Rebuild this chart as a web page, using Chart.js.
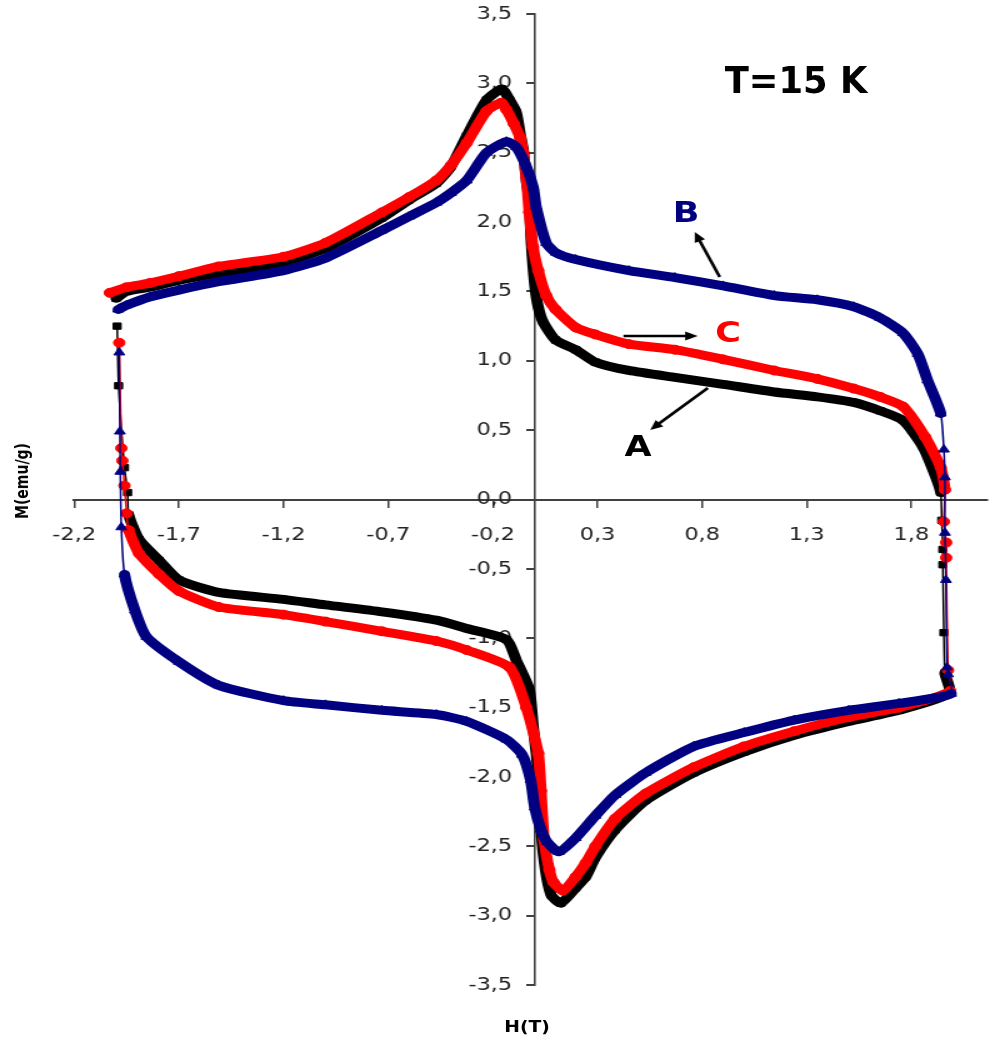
<!DOCTYPE html>
<html>
<head>
<meta charset="utf-8">
<title>M(H) loops, T=15 K</title>
<script src="https://cdn.jsdelivr.net/npm/chart.js@4.4.1/dist/chart.umd.min.js"></script>
<style>
  html, body { margin: 0; padding: 0; background: #fff; }
  #wrap { position: relative; width: 995px; height: 1046px; overflow: hidden; }
  /* the source picture is stretched sideways, so draw narrow and widen the canvas */
  #loopChart { position: absolute; left: 0; top: 0; width: 995px !important; height: 1046px !important; }
  .note { position: absolute; font-family: 'DejaVu Sans', sans-serif; font-weight: bold; white-space: nowrap; line-height: 1; }
</style>
</head>
<body>
<div id="wrap">
  <canvas id="loopChart" width="796" height="1046"></canvas>
  <div class="note" style="left:796px; top:80px; font-size:38px; color:#000; transform:translate(-50%,-50%) scaleX(0.93);">T=15 K</div>
  <div class="note" style="left:686px; top:213px; font-size:28px; color:#000080; transform:translate(-50%,-50%) scaleX(1.25);">B</div>
  <div class="note" style="left:728px; top:333px; font-size:28px; color:#ff0000; transform:translate(-50%,-50%) scaleX(1.25);">C</div>
  <div class="note" style="left:638px; top:447px; font-size:28px; color:#000; transform:translate(-50%,-50%) scaleX(1.25);">A</div>
  <div class="note" style="left:22px; top:481px; font-size:14px; color:#000; transform:translate(-50%,-50%) rotate(-90deg) scaleY(1.25);">M(emu/g)</div>
  <div class="note" style="left:527px; top:1027px; font-size:15px; color:#000; transform:translate(-50%,-50%) scaleX(1.25);">H(T)</div>
</div>
<script>
// --- Data: [H (T), M (emu/g)] along each loop ---
const loopA = [ // black squares
  [-2.0, 1.45], [-1.95, 1.50], [-1.84, 1.53], [-1.7, 1.58], [-1.51, 1.63], [-1.2, 1.71], [-1.0, 1.81],
  [-0.73, 2.03], [-0.6, 2.16], [-0.47, 2.28], [-0.4, 2.40], [-0.325, 2.62], [-0.23, 2.88], [-0.157, 2.96],
  [-0.12, 2.88], [-0.088, 2.79], [-0.07, 2.64], [-0.055, 2.52], [-0.04, 2.30], [-0.026, 2.16], [-0.017, 1.87],
  [0.0, 1.55], [0.015, 1.40], [0.04, 1.28], [0.1, 1.15], [0.196, 1.08], [0.29, 0.99], [0.45, 0.93],
  [0.67, 0.88], [0.9, 0.83], [1.145, 0.775], [1.35, 0.74], [1.524, 0.70], [1.65, 0.64], [1.76, 0.57],
  [1.855, 0.38], [1.917, 0.16], [1.94, 0.05],
  [1.945, -0.15], [1.95, -0.36], [1.95, -0.47], [1.955, -0.96], [1.96, -1.25], [1.98, -1.40],
  [1.74, -1.52], [1.5, -1.60], [1.24, -1.70], [1.0, -1.82], [0.76, -1.97], [0.53, -2.17], [0.385, -2.38],
  [0.29, -2.58], [0.244, -2.72], [0.196, -2.80], [0.125, -2.91], [0.078, -2.85], [0.045, -2.60], [0.02, -2.17],
  [0.017, -1.97], [-0.007, -1.64], [-0.026, -1.37], [-0.088, -1.16], [-0.135, -1.01], [-0.325, -0.93],
  [-0.47, -0.87], [-0.73, -0.81], [-1.0, -0.76], [-1.2, -0.72], [-1.51, -0.67], [-1.7, -0.58], [-1.794, -0.44],
  [-1.89, -0.29], [-1.94, -0.11],
  [-1.945, 0.05], [-1.96, 0.23], [-1.988, 0.82], [-1.995, 1.25]
];
const loopB = [ // navy triangles
  [-1.99, 1.37], [-1.95, 1.40], [-1.84, 1.46], [-1.7, 1.51], [-1.51, 1.57], [-1.2, 1.65], [-1.0, 1.74],
  [-0.73, 1.94], [-0.6, 2.04], [-0.47, 2.14], [-0.4, 2.21], [-0.325, 2.30], [-0.23, 2.50], [-0.135, 2.58],
  [-0.088, 2.54], [-0.04, 2.40], [-0.007, 2.25], [0.007, 2.11], [0.055, 1.85], [0.1, 1.78], [0.196, 1.73],
  [0.45, 1.65], [0.67, 1.60], [0.9, 1.54], [1.145, 1.47], [1.35, 1.44], [1.524, 1.39], [1.65, 1.31],
  [1.76, 1.20], [1.83, 1.05], [1.877, 0.86], [1.94, 0.62], [1.955, 0.36], [1.96, 0.16],
  [1.96, -0.24], [1.965, -0.58], [1.97, -1.21], [1.975, -1.26], [1.99, -1.40],
  [1.74, -1.47], [1.5, -1.52], [1.24, -1.59], [1.0, -1.68], [0.76, -1.78], [0.53, -1.97], [0.385, -2.13],
  [0.29, -2.28], [0.196, -2.44], [0.115, -2.54], [0.06, -2.47], [0.03, -2.38], [0.0, -2.22], [-0.02, -2.02],
  [-0.06, -1.84], [-0.135, -1.73], [-0.325, -1.60], [-0.47, -1.55], [-0.73, -1.52], [-1.0, -1.48],
  [-1.2, -1.45], [-1.51, -1.34], [-1.7, -1.17], [-1.855, -0.99], [-1.91, -0.80], [-1.96, -0.54],
  [-1.975, -0.20], [-1.98, 0.20], [-1.982, 0.49], [-1.985, 1.06]
];
const loopC = [ // red circles
  [-2.03, 1.49], [-1.95, 1.53], [-1.84, 1.56], [-1.7, 1.61], [-1.51, 1.68], [-1.2, 1.75], [-1.0, 1.85],
  [-0.73, 2.07], [-0.6, 2.18], [-0.47, 2.30], [-0.4, 2.41], [-0.325, 2.57], [-0.23, 2.80], [-0.16, 2.86],
  [-0.135, 2.81], [-0.1, 2.71], [-0.07, 2.61], [-0.055, 2.50], [-0.04, 2.33], [-0.026, 2.07], [-0.008, 1.82],
  [0.017, 1.65], [0.055, 1.47], [0.1, 1.37], [0.196, 1.24], [0.29, 1.19], [0.45, 1.12], [0.67, 1.08],
  [0.9, 1.01], [1.145, 0.93], [1.35, 0.87], [1.524, 0.80], [1.65, 0.74], [1.76, 0.67], [1.866, 0.45],
  [1.94, 0.23], [1.96, 0.07],
  [1.955, -0.16], [1.966, -0.31], [1.966, -0.42], [1.975, -1.23], [1.985, -1.38],
  [1.74, -1.50], [1.5, -1.57], [1.24, -1.67], [1.0, -1.78], [0.76, -1.93], [0.53, -2.12], [0.385, -2.30],
  [0.29, -2.50], [0.244, -2.62], [0.196, -2.72], [0.135, -2.82], [0.09, -2.76], [0.07, -2.67], [0.045, -2.45],
  [0.03, -2.10], [0.017, -1.83], [-0.04, -1.50], [-0.12, -1.21], [-0.325, -1.085], [-0.47, -1.02],
  [-0.73, -0.95], [-1.0, -0.88], [-1.2, -0.83], [-1.51, -0.775], [-1.7, -0.66], [-1.794, -0.54],
  [-1.89, -0.39], [-1.94, -0.22], [-1.95, -0.10],
  [-1.96, 0.10], [-1.97, 0.28], [-1.975, 0.37], [-1.985, 1.13]
];
const xTicks = [-2.2, -1.7, -1.2, -0.7, -0.2, 0.3, 0.8, 1.3, 1.8];
const yTicks = [-3.5, -3.0, -2.5, -2.0, -1.5, -1.0, -0.5, 0.0, 0.5, 1.0, 1.5, 2.0, 2.5, 3.0, 3.5];

// annotation arrows in data units: [fromH, fromM, toH, toM]
const arrows = [
  [0.884, 1.604, 0.765, 1.929],  // B
  [0.424, 1.179, 0.779, 1.179],  // C
  [0.827, 0.804, 0.552, 0.501]   // A
];

const comma = v => Number(v).toFixed(1).replace('.', ',');

// thin connector where the loop jumps vertically at the field ends
const isJump = seg => {
  const a = seg.p0.parsed, b = seg.p1.parsed;
  return Math.abs(a.x) > 1.93 && Math.abs(b.x) > 1.93 && Math.abs(b.y - a.y) > 8 * Math.abs(b.x - a.x);
};

function loopDataset(label, points, color, style, radius, order) {
  return {
    label: label,
    data: points.map(p => ({ x: p[0], y: p[1] })),
    showLine: true,
    borderColor: color,
    backgroundColor: color,
    borderWidth: 9,
    borderJoinStyle: 'round',
    borderCapStyle: 'round',
    tension: 0.2,
    pointStyle: style,
    pointRadius: radius,
    pointBorderWidth: 1,
    pointBackgroundColor: color,
    pointBorderColor: color,
    segment: { borderWidth: ctx => isJump(ctx) ? 1.5 : 9 },
    order: order
  };
}

// Axes cross at (0,0); Chart.js puts centred-axis labels right on the line,
// so the tick labels are written here next to the library's own tick positions.
const tickLabelPlugin = {
  id: 'tickLabels',
  beforeDatasetsDraw(chart) {
    const { ctx, scales: { x, y } } = chart;
    const axisX = x.getPixelForValue(0);
    const axisY = y.getPixelForValue(0);
    ctx.save();
    ctx.font = "18px 'DejaVu Sans', sans-serif";
    ctx.fillStyle = '#222';
    ctx.textBaseline = 'middle';
    ctx.textAlign = 'center';
    x.ticks.forEach(t => ctx.fillText(comma(t.value), x.getPixelForValue(t.value), axisY + 36));
    ctx.textAlign = 'right';
    y.ticks.forEach(t => ctx.fillText(comma(t.value), axisX - 18, y.getPixelForValue(t.value)));
    ctx.restore();
  }
};

const arrowPlugin = {
  id: 'arrows',
  afterDatasetsDraw(chart) {
    const { ctx, scales: { x, y } } = chart;
    ctx.save();
    ctx.strokeStyle = '#000';
    ctx.fillStyle = '#000';
    ctx.lineWidth = 2.6;
    arrows.forEach(a => {
      const x0 = x.getPixelForValue(a[0]), y0 = y.getPixelForValue(a[1]);
      const x1 = x.getPixelForValue(a[2]), y1 = y.getPixelForValue(a[3]);
      const ang = Math.atan2(y1 - y0, x1 - x0);
      const head = 11;
      ctx.beginPath();
      ctx.moveTo(x0, y0);
      ctx.lineTo(x1 - head * 0.7 * Math.cos(ang), y1 - head * 0.7 * Math.sin(ang));
      ctx.stroke();
      ctx.beginPath();
      ctx.moveTo(x1, y1);
      ctx.lineTo(x1 - head * Math.cos(ang - 0.42), y1 - head * Math.sin(ang - 0.42));
      ctx.lineTo(x1 - head * Math.cos(ang + 0.42), y1 - head * Math.sin(ang + 0.42));
      ctx.closePath();
      ctx.fill();
    });
    ctx.restore();
  }
};

Chart.defaults.font.family = "'DejaVu Sans', sans-serif";
Chart.defaults.color = '#222';

new Chart(document.getElementById('loopChart'), {
  type: 'scatter',
  data: {
    datasets: [
      loopDataset('B', loopB, '#000080', 'triangle', 5, 0),
      loopDataset('C', loopC, '#ff0000', 'circle', 4.5, 1),
      loopDataset('A', loopA, '#000000', 'rect', 4.5, 2)
    ]
  },
  options: {
    responsive: false,
    animation: false,
    layout: { padding: { left: 59.4, right: 0, top: 14, bottom: 61 } },
    plugins: {
      legend: { display: false },
      tooltip: { enabled: false }
    },
    scales: {
      x: {
        type: 'linear',
        position: { y: 0 },
        min: -2.2,
        max: 2.1635,
        afterBuildTicks: scale => { scale.ticks = xTicks.map(v => ({ value: v })); },
        grid: { drawOnChartArea: false, drawTicks: true, tickLength: 7, color: '#404040', lineWidth: 1.5 },
        border: { color: '#404040', width: 2 },
        ticks: { display: false }
      },
      y: {
        type: 'linear',
        position: { x: 0 },
        min: -3.5,
        max: 3.5,
        afterBuildTicks: scale => { scale.ticks = yTicks.map(v => ({ value: v })); },
        grid: { drawOnChartArea: false, drawTicks: true, tickLength: 6, color: '#404040', lineWidth: 2 },
        border: { color: '#404040', width: 1.6 },
        ticks: { display: false }
      }
    }
  },
  plugins: [tickLabelPlugin, arrowPlugin]
});
</script>
</body>
</html>
